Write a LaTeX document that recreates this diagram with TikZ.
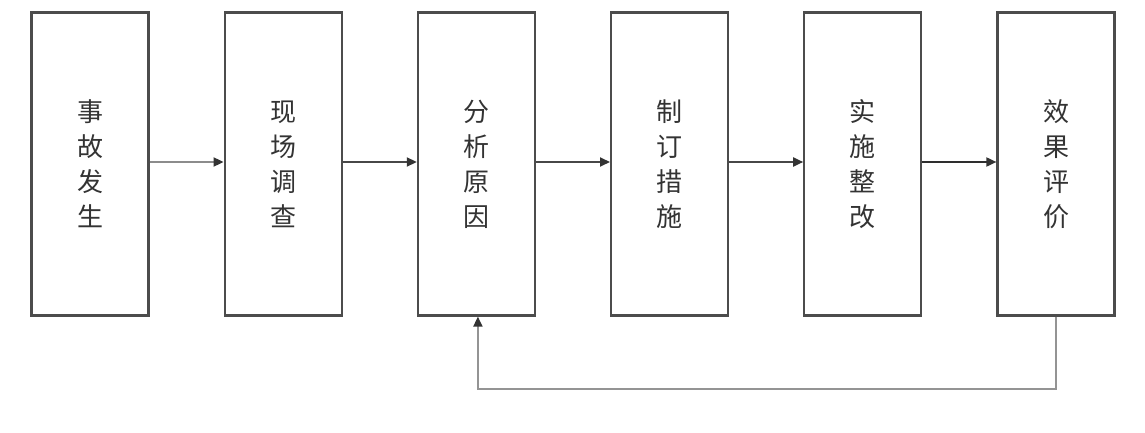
\documentclass[tikz,border=0pt]{standalone}
\usepackage{fontspec}
\newfontfamily\cjk{Noto Sans CJK SC}
\usetikzlibrary{positioning,arrows.meta}
\tikzset{
  stepbox/.style={draw=black!70,line width=2.2pt,minimum width=117pt,minimum height=303pt,
    inner sep=0pt,align=center,text=black!80,font=\cjk\fontsize{26}{35}\selectfont},
  flow/.style={-{Triangle[length=10pt,width=9pt,color=black!80]},line width=1.8pt,draw=black!72},
  back/.style={flow,draw=black!42},
}
\begin{document}
\begin{tikzpicture}[x=1pt,y=-1pt]
  \useasboundingbox (0,0) rectangle (1145,433);
  % the six steps
  \node[stepbox] (s1) at (90,164) {事\\故\\发\\生};
  \node[stepbox,right=74pt of s1] (s2) {现\\场\\调\\查};
  \node[stepbox,right=74pt of s2] (s3) {分\\析\\原\\因};
  \node[stepbox,right=74pt of s3] (s4) {制\\订\\措\\施};
  \node[stepbox,right=74pt of s4] (s5) {实\\施\\整\\改};
  \node[stepbox,right=74pt of s5] (s6) {效\\果\\评\\价};
  % forward arrows
  \draw[flow,draw=black!45] ([yshift=2pt]s1.east) -- ([yshift=2pt]s2.west);
  \draw[flow] ([yshift=2pt]s2.east) -- ([yshift=2pt]s3.west);
  \draw[flow] ([yshift=2pt]s3.east) -- ([yshift=2pt]s4.west);
  \draw[flow] ([yshift=2pt]s4.east) -- ([yshift=2pt]s5.west);
  \draw[flow,draw=black!82] ([yshift=2pt]s5.east) -- ([yshift=2pt]s6.west);
  % feedback loop
  \coordinate (fb) at (0,389);
  \draw[back] (s6.south) -- (s6.south |- fb) -- ([xshift=1.5pt]s3.south |- fb)
    -- ([xshift=1.5pt]s3.south);
\end{tikzpicture}
\end{document}
